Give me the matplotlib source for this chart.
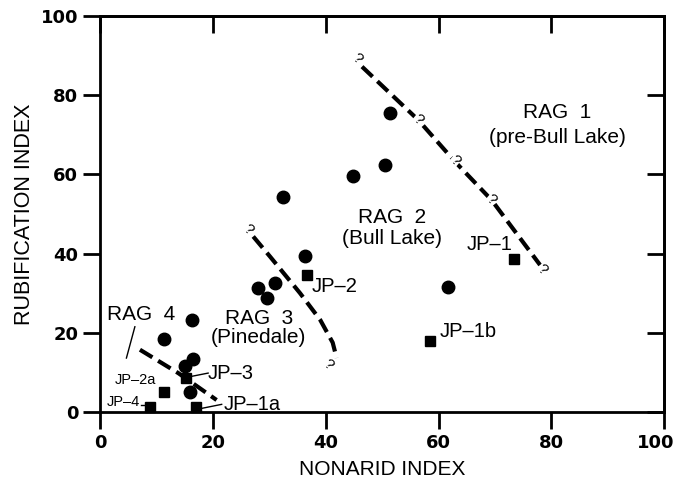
import matplotlib.pyplot as plt
import matplotlib.transforms as mtransforms

plt.rcParams['font.family'] = ['Liberation Sans', 'DejaVu Sans']

# soil samples (filled circles)
sample_x = [51.3, 50.4, 44.8, 32.3, 36.3, 31.0, 27.9, 29.5, 61.6, 16.2, 11.3, 16.5, 15.0, 15.9]
sample_y = [75.4, 62.4, 59.7, 54.4, 39.4, 32.5, 31.2, 28.7, 31.5, 23.2, 18.4, 13.4, 11.6, 5.1]

# JP profiles (filled squares)
jp_names = ['JP–1', 'JP–1b', 'JP–2', 'JP–3', 'JP–2a', 'JP–4', 'JP–1a']
jp_x = [73.3, 58.4, 36.6, 15.2, 11.3, 8.8, 16.9]
jp_y = [38.6, 17.9, 34.6, 8.5, 4.9, 1.3, 1.3]

# RAG boundaries (dashed)
rag12_x = [46.4, 56.4, 62.9, 69.4, 78.0]
rag12_y = [87.2, 73.7, 63.2, 53.5, 37.1]
rag23_x = [27.1, 30.1, 35.4, 39.0, 41.2, 41.9]
rag23_y = [44.3, 39.2, 30.0, 23.2, 17.5, 13.6]
rag34_x = [7.0, 13.8, 20.6]
rag34_y = [15.7, 9.8, 3.0]

fig = plt.figure(figsize=(6.79, 4.84), dpi=100)
ax = fig.add_axes([0.148, 0.149, 0.830, 0.818])

dash = (0, (3.5, 1.6))
for bx, by in [(rag12_x, rag12_y), (rag23_x, rag23_y), (rag34_x, rag34_y)]:
    ax.plot(bx, by, color='black', lw=3, linestyle=dash, dash_capstyle='butt', zorder=2)

ax.plot(sample_x, sample_y, 'o', color='black', markersize=9, clip_on=False, zorder=3)
ax.plot(jp_x, jp_y, 's', color='black', markersize=7.5, clip_on=False, zorder=3)

# question marks on the boundaries
qmarks = [(45.5, 89.3), (56.4, 73.9), (62.9, 63.4), (69.4, 53.7), (78.4, 35.8),
          (26.2, 46.0), (40.4, 12.0)]
for qx, qy in qmarks:
    ax.text(qx, qy, '?', fontsize=11, rotation=-40, ha='center', va='center',
            bbox=dict(fc='white', ec='none', pad=0.2), zorder=4)

# region labels
big = 15
ax.text(81.0, 75.5, 'RAG  1', fontsize=big, ha='center', va='center')
ax.text(81.0, 69.4, '(pre-Bull Lake)', fontsize=big, ha='center', va='center')
ax.text(51.7, 49.1, 'RAG  2', fontsize=big, ha='center', va='center')
ax.text(51.7, 43.9, '(Bull Lake)', fontsize=big, ha='center', va='center')
ax.text(28.1, 23.7, 'RAG  3', fontsize=big, ha='center', va='center')
ax.text(28.0, 18.7, '(Pinedale)', fontsize=big, ha='center', va='center')
ax.text(7.2, 24.5, 'RAG  4', fontsize=big, ha='center', va='center')
ax.plot([6.1, 4.6], [21.5, 13.6], color='black', lw=1)

# profile labels
mid = 14.5
small = 10.5
ax.text(65.0, 42.2, 'JP–1', fontsize=mid, ha='left', va='center')
ax.text(60.2, 20.3, 'JP–1b', fontsize=mid, ha='left', va='center')
ax.text(37.5, 31.6, 'JP–2', fontsize=mid, ha='left', va='center')
ax.text(19.1, 9.8, 'JP–3', fontsize=mid, ha='left', va='center')
ax.plot([15.9, 19.1], [8.9, 9.8], color='black', lw=1)
ax.text(21.8, 1.8, 'JP–1a', fontsize=mid, ha='left', va='center')
ax.plot([18.0, 21.5], [0.9, 1.9], color='black', lw=1, clip_on=False)
ax.text(2.6, 8.1, 'JP–2a', fontsize=small, ha='left', va='center')
ax.text(1.1, 2.6, 'JP–4', fontsize=small, ha='left', va='center')
ax.plot([7.2, 8.2], [1.8, 1.8], color='black', lw=1)

ax.set_xlim(0, 100)
ax.set_ylim(0, 100)
ax.set_xticks(range(0, 101, 20))
ax.set_yticks(range(0, 101, 20))
ax.tick_params(direction='out', length=12, width=2, labelsize=13, pad=4,
               labelfontfamily='DejaVu Sans')
for lab in ax.get_xticklabels() + ax.get_yticklabels():
    lab.set_fontweight('bold')
# keep the last x label inside the figure
last = ax.get_xticklabels()[-1]
last.set_transform(last.get_transform()
                   + mtransforms.ScaledTranslation(-6 / 72, 0, fig.dpi_scale_trans))
for s in ax.spines.values():
    s.set_linewidth(2)

secx = ax.secondary_xaxis('top')
secx.set_xticks(range(0, 101, 20))
secx.tick_params(direction='in', length=12, width=2, labeltop=False)
secx.spines['top'].set_linewidth(2)
secy = ax.secondary_yaxis('right')
secy.set_yticks(range(0, 101, 20))
secy.tick_params(direction='in', length=12, width=2, labelright=False)
secy.spines['right'].set_linewidth(2)

ax.set_xlabel('NONARID INDEX', fontsize=15, labelpad=6)
ax.set_ylabel('RUBIFICATION INDEX', fontsize=15.5, labelpad=4)

fig.savefig('out.png', dpi=100)
